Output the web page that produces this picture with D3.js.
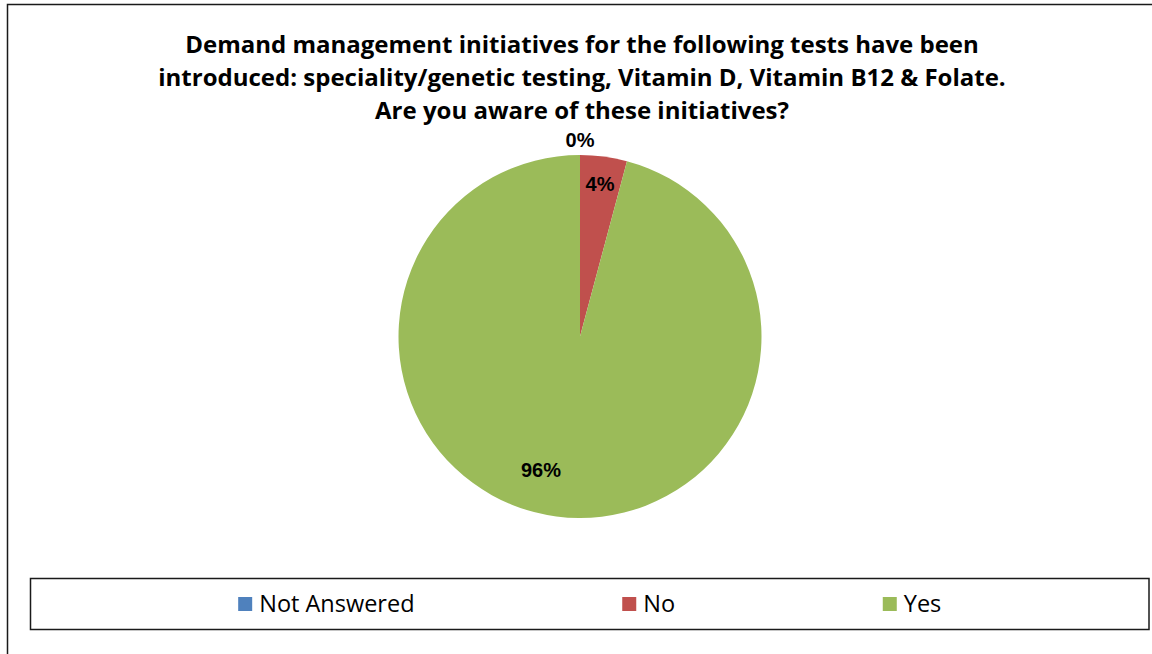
<!DOCTYPE html>
<html>
<head>
<meta charset="utf-8">
<script src="https://cdn.jsdelivr.net/npm/d3@7"></script>
<style>
  html, body { margin: 0; padding: 0; background: #fff; }
  svg { display: block; }
</style>
</head>
<body>
<svg id="chart" width="1152" height="654"></svg>
<script>
// Survey responses
const categories = ["Not Answered", "No", "Yes"];
const responses = [0, 2, 46];
const colors = ["#4F81BD", "#C0504D", "#9BBB59"];
const titleLines = [
  "Demand management initiatives for the following tests have been",
  "introduced: speciality/genetic testing, Vitamin D, Vitamin B12 & Folate.",
  "Are you aware of these initiatives?"
];

const W = 1152, H = 654;
const svg = d3.select("#chart");

// Outer chart frame (right and bottom edges run past the visible area)
svg.append("rect")
  .attr("x", 7.5).attr("y", 4.5)
  .attr("width", W + 20).attr("height", H + 20)
  .attr("fill", "none").attr("stroke", "#1a1a1a").attr("stroke-width", 1.5);

// Title
svg.append("g")
  .selectAll("text")
  .data(titleLines)
  .join("text")
  .attr("x", 582)
  .attr("y", (d, i) => 53 + i * 33)
  .attr("text-anchor", "middle")
  .attr("font-family", "'Open Sans', sans-serif")
  .attr("font-weight", "bold")
  .attr("font-size", 24)
  .attr("fill", "#000")
  .text(d => d);

// Pie
const cx = 580, cy = 336.5, R = 181.5;
const pie = d3.pie().sort(null).startAngle(0).endAngle(2 * Math.PI);
const arcs = pie(responses);
const arc = d3.arc().innerRadius(0).outerRadius(R);

const g = svg.append("g").attr("transform", `translate(${cx},${cy})`);
g.selectAll("path")
  .data(arcs)
  .join("path")
  .attr("d", arc)
  .attr("fill", (d, i) => colors[i]);

// Percentage labels
const total = d3.sum(responses);
const labelPlacement = [
  { radius: 1.083, turn: 0 },
  { radius: 0.847, turn: 0 },
  { radius: 0.766, turn: 8.8 * Math.PI / 180 }
];
g.selectAll("text.pct")
  .data(arcs)
  .join("text")
  .attr("class", "pct")
  .attr("transform", (d, i) => {
    const a = (d.startAngle + d.endAngle) / 2 + labelPlacement[i].turn;
    const r = R * labelPlacement[i].radius;
    return `translate(${r * Math.sin(a)},${-r * Math.cos(a)})`;
  })
  .attr("text-anchor", "middle")
  .attr("dy", "0.36em")
  .attr("font-family", "'Liberation Sans', Arial, sans-serif")
  .attr("font-weight", "bold")
  .attr("font-size", 20)
  .attr("fill", "#000")
  .text(d => Math.round(d.value / total * 100) + "%");

// Legend
const lx = 30.5, ly = 578.5, lw = 1118.5, lh = 51;
svg.append("rect")
  .attr("x", lx).attr("y", ly).attr("width", lw).attr("height", lh)
  .attr("fill", "#fff").attr("stroke", "#1a1a1a").attr("stroke-width", 1.5);

const sw = 14, gapText = 7;
const legend = svg.append("g");
const items = legend.selectAll("g")
  .data(categories)
  .join("g");
items.append("rect")
  .attr("width", sw).attr("height", sw)
  .attr("y", -sw / 2)
  .attr("fill", (d, i) => colors[i]);
items.append("text")
  .attr("x", sw + gapText)
  .attr("dy", "0.35em")
  .attr("font-family", "'Open Sans', sans-serif")
  .attr("font-size", 23.5)
  .attr("fill", "#000")
  .text(d => d);

// Spread entries evenly across the legend box
const widths = [];
items.each(function () { widths.push(this.getBBox().width); });
const gap = (lw - d3.sum(widths)) / (widths.length + 1);
let xpos = lx + gap;
items.attr("transform", (d, i) => {
  const t = `translate(${xpos},${ly + lh / 2})`;
  xpos += widths[i] + gap;
  return t;
});
</script>
</body>
</html>
